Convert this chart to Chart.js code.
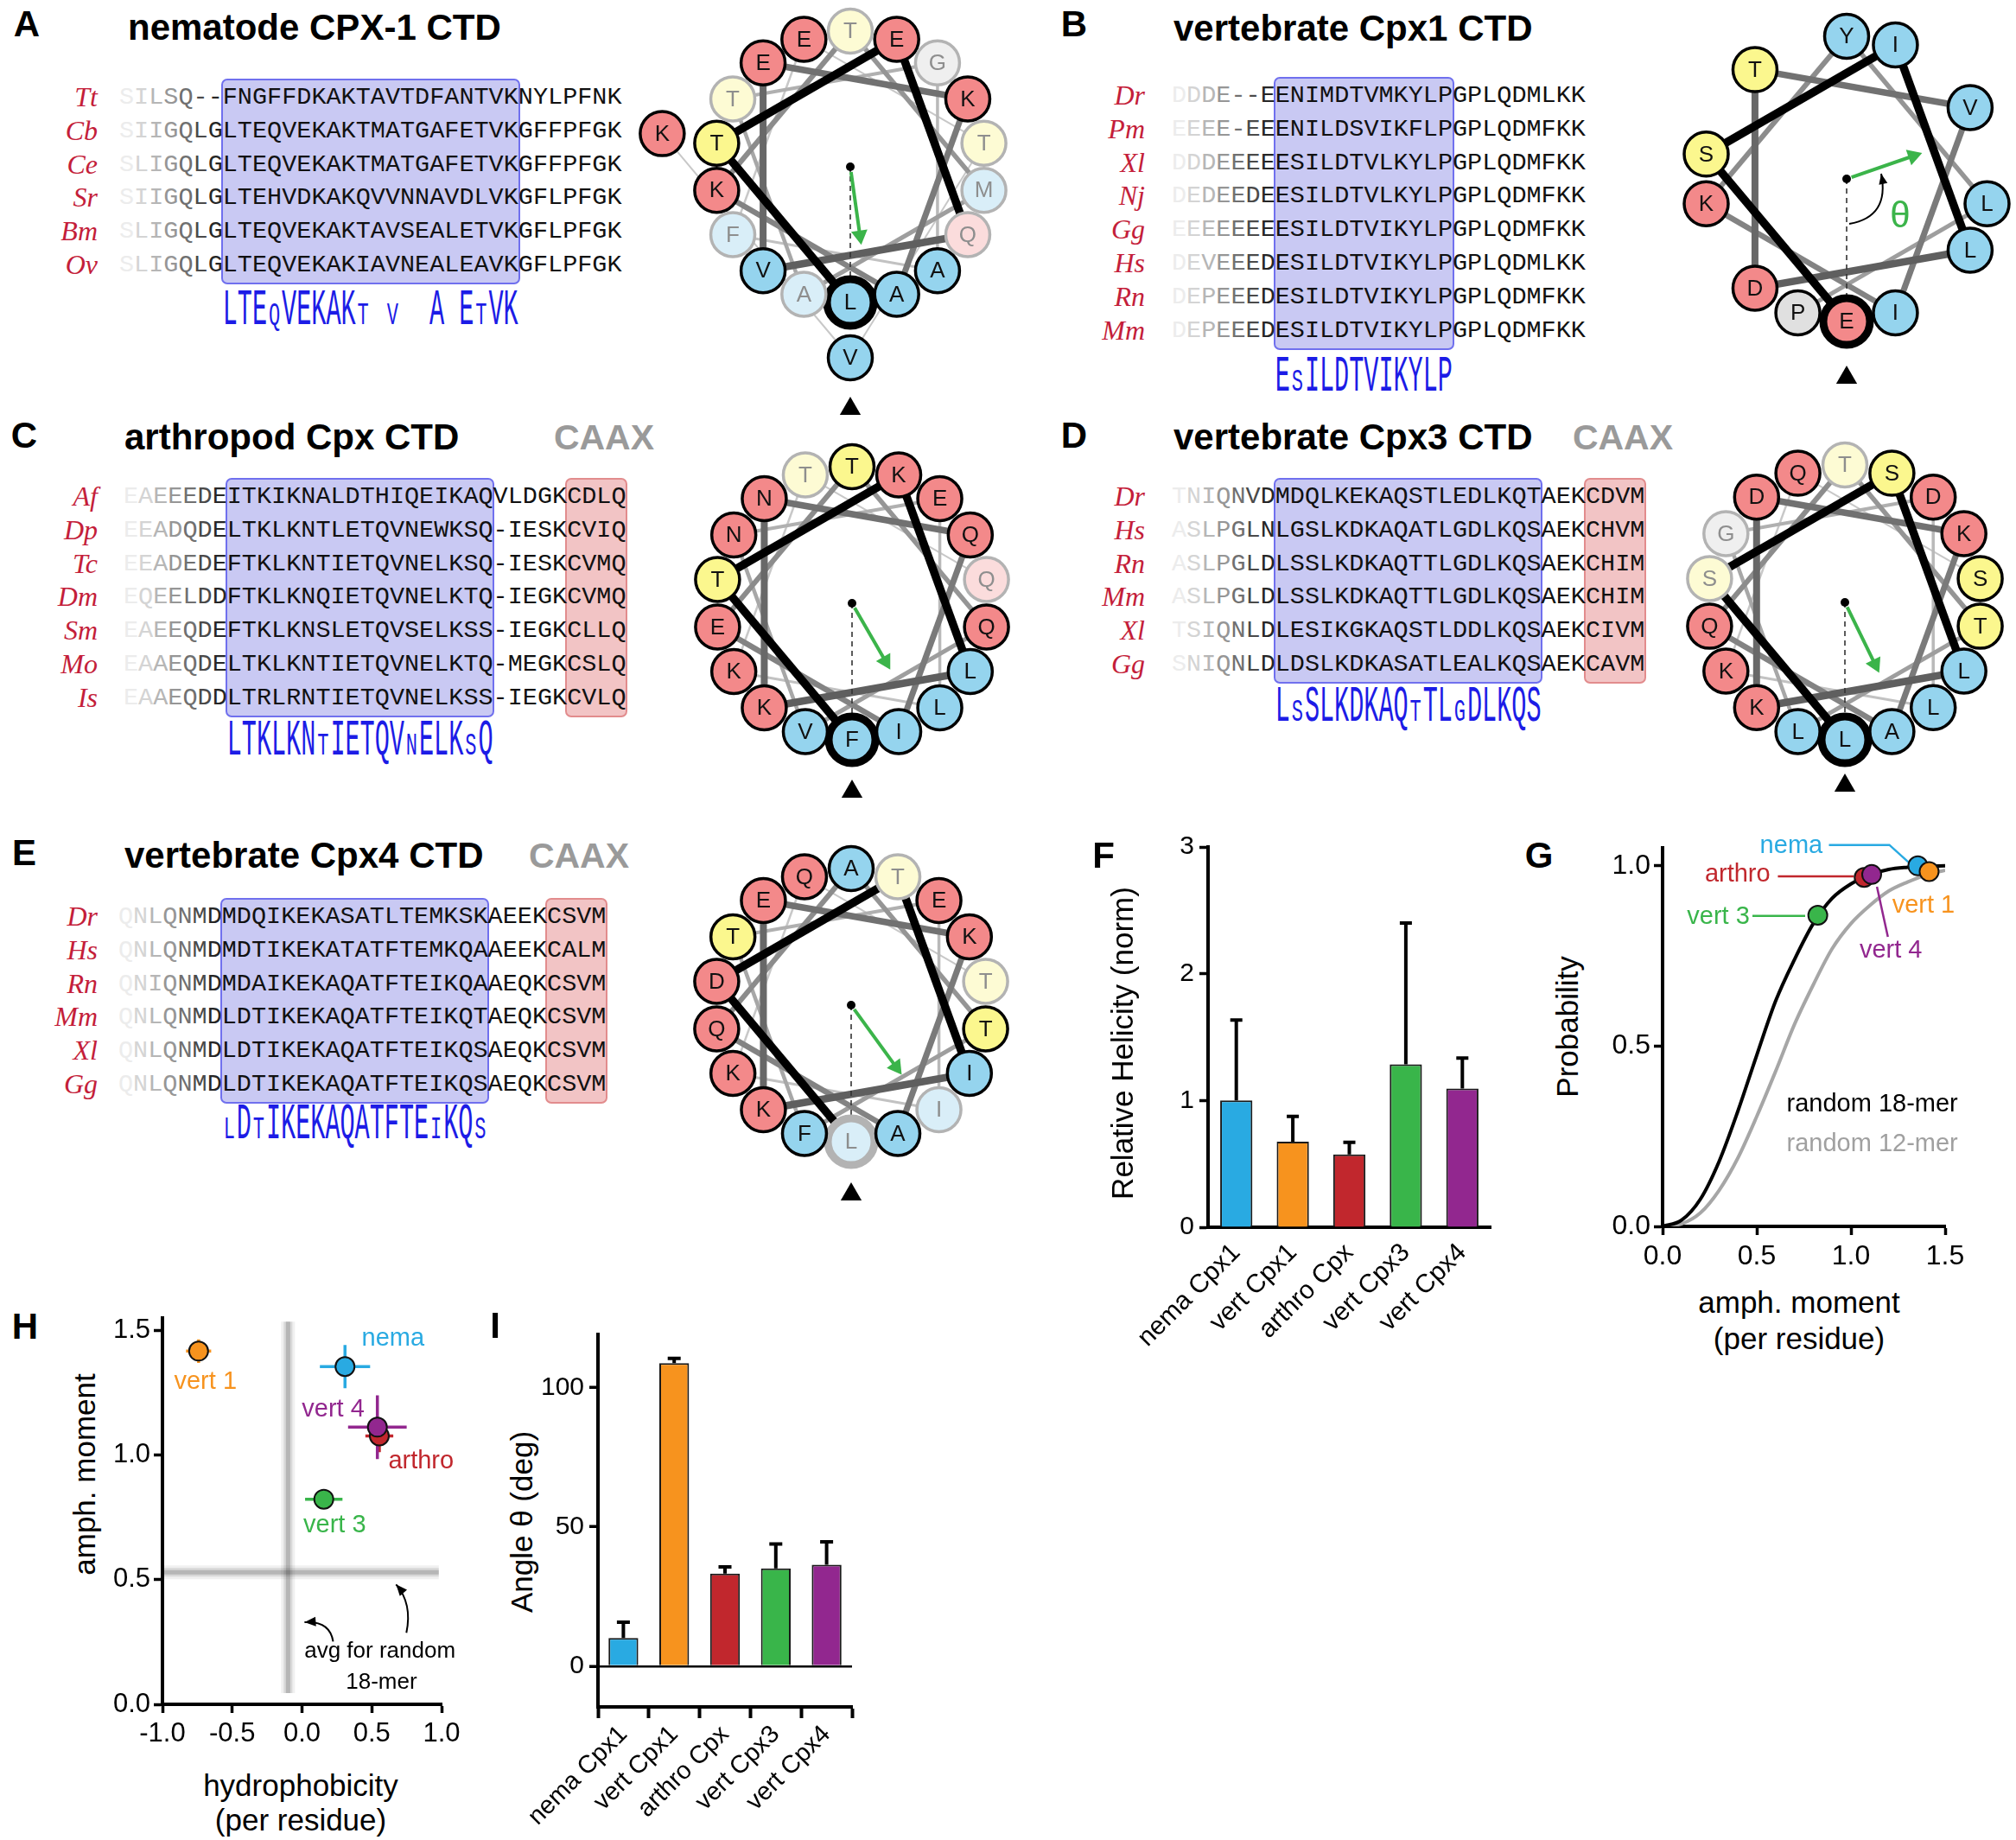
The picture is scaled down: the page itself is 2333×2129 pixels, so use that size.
<!DOCTYPE html>
<html>
<head>
<meta charset="utf-8">
<script src="https://cdn.jsdelivr.net/npm/chart.js@4.4.1/dist/chart.umd.min.js"></script>
<style>
html, body { margin: 0; padding: 0; background: #fff; overflow: hidden; }
#page { position: relative; width: 2333px; height: 2129px; overflow: hidden; font-family: "Liberation Sans", Arial, sans-serif; }
.t { position: absolute; white-space: nowrap; line-height: 1; }
.box { position: absolute; border-radius: 7px; box-sizing: border-box; }
canvas { position: absolute; }
</style>
</head>
<body>
<div id="page"></div>
<script>
// ---------- alignments (A-E) ----------
const speciesA = ['Tt', 'Cb', 'Ce', 'Sr', 'Bm', 'Ov'];
const seqA = [
  'SILSQ--FNGFFDKAKTAVTDFANTVKNYLPFNK',
  'SIIGQLGLTEQVEKAKTMATGAFETVKGFFPFGK',
  'SLIGQLGLTEQVEKAKTMATGAFETVKGFFPFGK',
  'SIIGQLGLTEHVDKAKQVVNNAVDLVKGFLPFGK',
  'SLIGQLGLTEQVEKAKTAVSEALETVKGFLPFGK',
  'SLIGQLGLTEQVEKAKIAVNEALEAVKGFLPFGK'];
const consA = 'LTEqVEKAKt v  A EtVK';

const speciesB = ['Dr', 'Pm', 'Xl', 'Nj', 'Gg', 'Hs', 'Rn', 'Mm'];
const seqB = [
  'DDDE--EENIMDTVMKYLPGPLQDMLKK',
  'EEEE-EEENILDSVIKFLPGPLQDMFKK',
  'DDDEEEEESILDTVLKYLPGPLQDMFKK',
  'DEDEEDEESILDTVLKYLPGPLQDMFKK',
  'EEEEEEEESILDTVIKYLPGPLQDMFKK',
  'DEVEEEDESILDTVIKYLPGPLQDMLKK',
  'DEPEEEDESILDTVIKYLPGPLQDMFKK',
  'DEPEEEDESILDTVIKYLPGPLQDMFKK'];
const consB = 'EsILDTVIKYLP';

const speciesC = ['Af', 'Dp', 'Tc', 'Dm', 'Sm', 'Mo', 'Is'];
const seqC = [
  'EAEEEDEITKIKNALDTHIQEIKAQVLDGKCDLQ',
  'EEADQDELTKLKNTLETQVNEWKSQ-IESKCVIQ',
  'EEADEDEFTKLKNTIETQVNELKSQ-IESKCVMQ',
  'EQEELDDFTKLKNQIETQVNELKTQ-IEGKCVMQ',
  'EAEEQDEFTKLKNSLETQVSELKSS-IEGKCLLQ',
  'EAAEQDELTKLKNTIETQVNELKTQ-MEGKCSLQ',
  'EAAEQDDLTRLRNTIETQVNELKSS-IEGKCVLQ'];
const consC = 'LTKLKNtIETQVnELKsQ';

const speciesD = ['Dr', 'Hs', 'Rn', 'Mm', 'Xl', 'Gg'];
const seqD = [
  'TNIQNVDMDQLKEKAQSTLEDLKQTAEKCDVM',
  'ASLPGLNLGSLKDKAQATLGDLKQSAEKCHVM',
  'ASLPGLDLSSLKDKAQTTLGDLKQSAEKCHIM',
  'ASLPGLDLSSLKDKAQTTLGDLKQSAEKCHIM',
  'TSIQNLDLESIKGKAQSTLDDLKQSAEKCIVM',
  'SNIQNLDLDSLKDKASATLEALKQSAEKCAVM'];
const consD = 'LsSLKDKAQtTLgDLKQS';

const speciesE = ['Dr', 'Hs', 'Rn', 'Mm', 'Xl', 'Gg'];
const seqE = [
  'QNLQNMDMDQIKEKASATLTEMKSKAEEKCSVM',
  'QNLQNMDMDTIKEKATATFTEMKQAAEEKCALM',
  'QNIQNMDMDAIKEKAQATFTEIKQAAEQKCSVM',
  'QNLQNMDLDTIKEKAQATFTEIKQTAEQKCSVM',
  'QNLQNMDLDTIKEKAQATFTEIKQSAEQKCSVM',
  'QNLQNMDLDTIKEKAQATFTEIKQSAEQKCSVM'];
const consE = 'lDtIKEKAQATFTEiKQs';

// ---------- helical wheels ----------
const wheelSeqA = 'LTEQVEKAKTMATGAFETVK';
const wheelPaleA = '00010000011111010100';
const wheelSeqB = 'ESILDTVIKYLP';
const wheelPaleB = '000000000000';
const wheelSeqC = 'FTKLKNQIETQVNELKTQ';
const wheelPaleC = '000000000000000011';
const wheelSeqD = 'LSSLKDKAQTTLGDLKQS';
const wheelPaleD = '010000000100100000';
const wheelSeqE = 'LDTIKEKAQATFTEIKQT';
const wheelPaleE = '101000000000001001';
const momentTheta = [8, 109, 30, 26, 36];          // deg, wheels A..E
const momentLen = [0.58, 0.56, 0.56, 0.57, 0.63];  // fraction of wheel radius

// ---------- F, I bar charts ----------
const groups = ['nema Cpx1', 'vert Cpx1', 'arthro Cpx', 'vert Cpx3', 'vert Cpx4'];
const helicity = [1.0, 0.675, 0.575, 1.285, 1.095];
const helicitySd = [0.635, 0.2, 0.095, 1.115, 0.24];
const helicityTicks = [0, 1, 2, 3];
const angle = [10.1, 108.7, 33.2, 35.1, 36.4];
const angleSd = [5.7, 1.7, 2.4, 8.7, 8.2];
const angleTicks = [0, 50, 100];

// ---------- G probability curves ----------
const amphX = [0, 0.1, 0.2, 0.3, 0.4, 0.5, 0.6, 0.7, 0.8, 0.9, 1.0, 1.1, 1.2, 1.3, 1.4, 1.5];
const prob18 = [0, 0.017, 0.075, 0.18, 0.32, 0.475, 0.625, 0.74, 0.84, 0.91, 0.95, 0.975, 0.99, 0.996, 0.999, 1.0];
const prob12 = [0, 0.007, 0.037, 0.1, 0.19, 0.305, 0.43, 0.56, 0.67, 0.77, 0.84, 0.89, 0.93, 0.955, 0.975, 0.988];
const pointNames = ['nema', 'vert 1', 'arthro', 'vert 3', 'vert 4'];
const gMoment = [1.355, 1.415, 1.07, 0.824, 1.11];
const gProb = [1.0, 0.984, 0.968, 0.863, 0.976];
const gXTicks = [0, 0.5, 1.0, 1.5];
const gYTicks = [0, 0.5, 1.0];

// ---------- H hydrophobicity vs moment ----------
const hHydro = [0.308, -0.741, 0.554, 0.156, 0.54];
const hHydroSd = [0.18, 0.09, 0.1, 0.134, 0.21];
const hMoment = [1.355, 1.417, 1.077, 0.823, 1.112];
const hMomentSd = [0.087, 0.047, 0.065, 0.02, 0.128];
const randomHydro = -0.1;
const randomMoment = 0.53;
const hXTicks = [-1.0, -0.5, 0.0, 0.5, 1.0];
const hYTicks = [0, 0.5, 1.0, 1.5];

const groupColors = ['#29aae2', '#f7931e', '#c1272d', '#39b54a', '#92278f'];

// =====================================================
const page = document.getElementById('page');
const SANS = '"Liberation Sans", Arial, sans-serif';
Chart.defaults.font.family = SANS;
Chart.defaults.color = '#000';
Chart.defaults.animation = false;
Chart.defaults.events = [];
Chart.defaults.plugins.legend.display = false;
Chart.defaults.plugins.tooltip.enabled = false;

function addDiv(cls, css, text) {
  const d = document.createElement('div');
  d.className = cls;
  Object.assign(d.style, css);
  if (text != null) d.textContent = text;
  page.appendChild(d);
  return d;
}
function label(x, y, text, css, align, dy) {
  const tx = align === 'c' ? '-50%' : align === 'r' ? '-100%' : '0';
  return addDiv('t', Object.assign({left: x + 'px', top: y + 'px',
    transform: 'translate(' + tx + ',' + (dy || '-50%') + ')'}, css), text);
}
function vlabel(x, y, text, size) {
  return addDiv('t', {left: x + 'px', top: y + 'px', fontSize: size + 'px',
    transform: 'translate(-50%,-50%) rotate(-90deg)'}, text);
}
function canvasAt(left, top, w, h) {
  const c = document.createElement('canvas');
  c.width = w; c.height = h;
  Object.assign(c.style, {left: left + 'px', top: top + 'px', width: w + 'px', height: h + 'px'});
  page.appendChild(c);
  return c;
}
function chartCanvas(L, T, R, B, pl, pt, pr, pb) {
  return canvasAt(L - pl, T - pt, R - L + pl + pr, B - T + pt + pb);
}

// ---------- alignment drawing ----------
const CW = 17.1, STEP = 38.8, FS = CW / 0.6;
const fade = ['#ececec', '#d4d4d4', '#b6b6b6', '#969696', '#707070', '#4a4a4a', '#262626'];

function alignment(species, seqs, x0, labelRight, y0, cons, consY, boxes) {
  const last = y0 + STEP * (seqs.length - 1);
  boxes.forEach(b => {
    const blue = b[2] === 'b';
    addDiv('box', {left: (x0 + b[0] * CW - 2) + 'px', top: (y0 - 21) + 'px',
      width: ((b[1] - b[0]) * CW + 4) + 'px', height: (last - y0 + 44) + 'px',
      background: blue ? '#c9c9f3' : '#f2c4c5',
      border: '2px solid ' + (blue ? '#7070ee' : '#e28c8d')});
  });
  seqs.forEach((s, r) => {
    const y = y0 + r * STEP;
    label(labelRight, y, species[r], {fontFamily: '"Liberation Serif", serif', fontStyle: 'italic',
      fontSize: '32px', color: '#c41e3a'}, 'r');
    const d = label(x0, y, null, {fontFamily: '"Liberation Mono", monospace', fontSize: FS + 'px', color: '#111'}, 'l', '-44%');
    d.innerHTML = [...s].map((ch, i) => i < fade.length ? '<span style="color:' + fade[i] + '">' + ch + '</span>' : ch).join('');
  });
  // consensus: capitals big, lower case shown as small capitals
  const base = consY + 19.5;
  [...cons].forEach((ch, i) => {
    if (ch === ' ') return;
    const small = ch !== ch.toUpperCase();
    const fs = small ? 22 : FS, k = small ? 1.65 : 2.08;
    addDiv('t', {left: (x0 + (7 + i) * CW) + 'px', width: CW + 'px', textAlign: 'center',
      top: (base - 0.767 * fs) + 'px', fontSize: fs + 'px', fontFamily: '"Liberation Mono", monospace',
      color: '#1c1ce6', transformOrigin: '50% ' + (0.767 * fs) + 'px', transform: 'scaleY(' + k + ')'},
      ch.toUpperCase());
  });
}

const letterCss = {fontSize: '42px', fontWeight: 'bold'};
const titleCss = {fontSize: '42px', fontWeight: 'bold'};
const caaxCss = {fontSize: '41px', fontWeight: 'bold', color: '#9a9a9a'};

label(31, 28, 'A', letterCss, 'c');
label(148, 32, 'nematode CPX-1 CTD', titleCss, 'l');
alignment(speciesA, seqA, 138, 113, 112, consA, 357, [[7, 27, 'b']]);

label(1243, 28, 'B', letterCss, 'c');
label(1358, 33, 'vertebrate Cpx1 CTD', titleCss, 'l');
alignment(speciesB, seqB, 1356, 1325, 110, consB, 434, [[7, 19, 'b']]);

label(28, 504, 'C', letterCss, 'c');
label(144, 506, 'arthropod Cpx CTD', titleCss, 'l');
label(699, 506, 'CAAX', caaxCss, 'c');
alignment(speciesC, seqC, 143, 113, 574, consC, 855, [[7, 25, 'b'], [30, 34, 'r']]);

label(1243, 504, 'D', letterCss, 'c');
label(1358, 506, 'vertebrate Cpx3 CTD', titleCss, 'l');
label(1878, 506, 'CAAX', caaxCss, 'c');
alignment(speciesD, seqD, 1356, 1325, 574, consD, 816, [[7, 25, 'b'], [28, 32, 'r']]);

label(28, 987, 'E', letterCss, 'c');
label(144, 990, 'vertebrate Cpx4 CTD', titleCss, 'l');
label(670, 990, 'CAAX', caaxCss, 'c');
alignment(speciesE, seqE, 137, 113, 1060, consE, 1299, [[7, 25, 'b'], [29, 33, 'r']]);

// ---------- helical wheels ----------
const resKind = {K: 'red', E: 'red', D: 'red', R: 'red', N: 'red', Q: 'red', H: 'red',
  S: 'yel', T: 'yel', G: 'gry', P: 'gry'};
const fills = {red: '#f3898a', yel: '#fbf78e', blu: '#95d4ee', gry: '#e0e0e0'};
const paleFills = {red: '#fbdcdc', yel: '#fdfbd4', blu: '#d9eef8', gry: '#efefef'};

function arrowHead(ctx, x, y, ang, len, half) {
  ctx.beginPath();
  ctx.moveTo(x, y);
  ctx.lineTo(x - len * Math.cos(ang) + half * Math.sin(ang), y - len * Math.sin(ang) - half * Math.cos(ang));
  ctx.lineTo(x - len * Math.cos(ang) - half * Math.sin(ang), y - len * Math.sin(ang) + half * Math.cos(ang));
  ctx.closePath();
  ctx.fill();
}

const wheelText = {
  id: 'wheelText',
  afterDatasetsDraw(chart, args, o) {
    const ctx = chart.ctx, meta = chart.getDatasetMeta(0);
    const xs = chart.scales.x, ys = chart.scales.y;
    ctx.save();
    ctx.font = '26px ' + SANS;
    ctx.textAlign = 'center';
    ctx.textBaseline = 'middle';
    meta.data.forEach((el, i) => {
      ctx.fillStyle = o.pale[i] === '1' ? '#8e8e8e' : '#111';
      ctx.fillText(o.seq[i], el.x, el.y + 1);
    });
    if (o.showTheta) {
      const P = q => [xs.getPixelForValue(q[0]), ys.getPixelForValue(q[1])];
      const a = P([3, -52]), c = P([50, -44]), b = P([40, 6]);
      ctx.strokeStyle = '#000'; ctx.fillStyle = '#000'; ctx.lineWidth = 2;
      ctx.beginPath(); ctx.moveTo(a[0], a[1]); ctx.quadraticCurveTo(c[0], c[1], b[0], b[1]); ctx.stroke();
      arrowHead(ctx, b[0], b[1], Math.atan2(b[1] - c[1], b[0] - c[0]), 12, 5);
      const t = P([62, -44]);
      ctx.fillStyle = '#3bb44a';
      ctx.font = '42px ' + SANS;
      ctx.fillText('\u03b8', t[0], t[1]);
    }
    ctx.restore();
  }
};

function wheel(seq, pale, theta, lenFrac, cx, cy, r, rOut, triOff, showTheta) {
  const W = 600, H = 640, ox = 300, oy = 290;
  const c = canvasAt(cx - ox, cy - oy, W, H);
  const pts = [...seq].map((aa, i) => {
    const a = (180 + 100 * i) * Math.PI / 180, rr = i < 18 ? r : rOut;
    return {x: rr * Math.sin(a), y: rr * Math.cos(a)};
  });
  const isPale = i => pale[i] === '1';
  const kind = i => resKind[seq[i]] || 'blu';
  const datasets = [{
    data: pts,
    pointRadius: pts.map((p, i) => i === 0 ? 27 : 25.5),
    pointBackgroundColor: pts.map((p, i) => (isPale(i) ? paleFills : fills)[kind(i)]),
    pointBorderColor: pts.map((p, i) => isPale(i) ? '#b3b3b3' : '#000'),
    pointBorderWidth: pts.map((p, i) => i === 0 ? 9 : 3.5),
    order: 0
  }];
  datasets.push({data: [{x: 0, y: 0}], pointRadius: 5, pointBackgroundColor: '#000', pointBorderWidth: 0, order: 1});
  datasets.push({data: [{x: 0, y: 0}, {x: 0, y: -(r - 26)}], showLine: true, borderColor: '#333',
    borderWidth: 1.6, borderDash: [6, 5], pointRadius: 0, order: 2});
  const t = theta * Math.PI / 180, dx = Math.sin(t), dy = -Math.cos(t), len = lenFrac * r, hd = 11;
  datasets.push({data: [{x: dx * 6, y: dy * 6}, {x: dx * (len - hd), y: dy * (len - hd)}], showLine: true,
    borderColor: '#3bb44a', borderWidth: 4, pointRadius: [0, hd], pointStyle: 'triangle',
    pointRotation: 180 - theta, pointBackgroundColor: '#3bb44a', pointBorderWidth: 0, order: 1});
  datasets.push({data: [{x: 0, y: -triOff}], pointRadius: 14, pointStyle: 'triangle',
    pointBackgroundColor: '#000', pointBorderWidth: 0, order: 1});
  for (let k = 0; k < pts.length - 1; k++) {
    const g = Math.min(200, 95 + (k - 3) * 9);
    datasets.push({
      data: [{x: pts[k].x, y: pts[k].y}, {x: pts[k + 1].x, y: pts[k + 1].y}],
      showLine: true, pointRadius: 0,
      borderColor: k < 3 ? '#000' : 'rgb(' + g + ',' + g + ',' + g + ')',
      borderWidth: k < 3 ? 9.5 : Math.max(2, 8.5 - (k - 3) * 0.5),
      order: 3 + k
    });
  }
  new Chart(c, {
    type: 'scatter',
    data: {datasets},
    options: {
      responsive: false, devicePixelRatio: 1,
      layout: {padding: 0, autoPadding: false},
      scales: {x: {display: false, min: -ox, max: W - ox}, y: {display: false, min: -(H - oy), max: oy}},
      plugins: {wheelText: {seq, pale, showTheta}}
    },
    plugins: [wheelText]
  });
}

wheel(wheelSeqA, wheelPaleA, momentTheta[0], momentLen[0], 984, 193, 157, 221, 280, false);
wheel(wheelSeqB, wheelPaleB, momentTheta[1], momentLen[1], 2137, 207, 165, 230, 230, true);
wheel(wheelSeqC, wheelPaleC, momentTheta[2], momentLen[2], 986, 698, 158, 222, 218, false);
wheel(wheelSeqD, wheelPaleD, momentTheta[3], momentLen[3], 2135, 697, 159, 222, 212, false);
wheel(wheelSeqE, wheelPaleE, momentTheta[4], momentLen[4], 985, 1163, 158, 222, 219, false);

// ---------- chart plugins ----------
const errorBars = {
  id: 'errorBars',
  afterDatasetsDraw(chart, args, o) {
    const ctx = chart.ctx, meta = chart.getDatasetMeta(0), ys = chart.scales.y;
    const vals = chart.data.datasets[0].data;
    ctx.save();
    ctx.strokeStyle = '#000';
    ctx.lineWidth = o.width;
    meta.data.forEach((bar, i) => {
      const top = ys.getPixelForValue(vals[i] + o.sd[i]);
      ctx.beginPath();
      ctx.moveTo(bar.x, bar.y); ctx.lineTo(bar.x, top);
      ctx.moveTo(bar.x - o.cap, top); ctx.lineTo(bar.x + o.cap, top);
      ctx.stroke();
    });
    ctx.restore();
  }
};

const chartTexts = {
  id: 'chartTexts',
  afterDatasetsDraw(chart, args, o) {
    const ctx = chart.ctx, xs = chart.scales.x, ys = chart.scales.y;
    ctx.save();
    ctx.textBaseline = 'middle';
    (o.items || []).forEach(it => {
      ctx.font = it.size + 'px ' + SANS;
      ctx.fillStyle = it.color;
      ctx.textAlign = it.align || 'center';
      ctx.fillText(it.text, xs.getPixelForValue(it.x), ys.getPixelForValue(it.y));
    });
    (o.arrows || []).forEach(a => {
      const p = a.map(q => [xs.getPixelForValue(q[0]), ys.getPixelForValue(q[1])]);
      ctx.strokeStyle = '#000'; ctx.fillStyle = '#000'; ctx.lineWidth = 2;
      ctx.beginPath(); ctx.moveTo(p[0][0], p[0][1]);
      ctx.quadraticCurveTo(p[1][0], p[1][1], p[2][0], p[2][1]); ctx.stroke();
      arrowHead(ctx, p[2][0], p[2][1], Math.atan2(p[2][1] - p[1][1], p[2][0] - p[1][0]), 13, 5.5);
    });
    ctx.restore();
  }
};

const xyErrors = {
  id: 'xyErrors',
  beforeDatasetDraw(chart, args, o) {
    if (args.index !== o.index) return;
    const ctx = chart.ctx, xs = chart.scales.x, ys = chart.scales.y;
    ctx.save();
    ctx.lineWidth = 3.5;
    o.x.forEach((x, i) => {
      const y = o.y[i];
      ctx.strokeStyle = o.colors[i];
      ctx.beginPath();
      ctx.moveTo(xs.getPixelForValue(x - o.xsd[i]), ys.getPixelForValue(y));
      ctx.lineTo(xs.getPixelForValue(x + o.xsd[i]), ys.getPixelForValue(y));
      ctx.moveTo(xs.getPixelForValue(x), ys.getPixelForValue(y - o.ysd[i]));
      ctx.lineTo(xs.getPixelForValue(x), ys.getPixelForValue(y + o.ysd[i]));
      ctx.stroke();
    });
    ctx.restore();
  }
};

function tickGrid(len) {
  return {display: true, drawOnChartArea: false, drawTicks: true, tickLength: len, tickWidth: 3.5, tickColor: '#000'};
}
const axisBorder = {display: true, color: '#000', width: 4};

// ---------- F ----------
label(1277, 990, 'F', letterCss, 'c');
vlabel(1298, 1207, 'Relative Helicity (norm)', 35);
new Chart(chartCanvas(1398, 980, 1725, 1420, 110, 30, 20, 240), {
  type: 'bar',
  data: {labels: groups, datasets: [{data: helicity, backgroundColor: groupColors, borderColor: '#1a1a1a',
    borderWidth: 2, barPercentage: 0.57, categoryPercentage: 1}]},
  options: {
    responsive: false, devicePixelRatio: 1,
    layout: {padding: {left: 0, top: 30, right: 20, bottom: 0}, autoPadding: false},
    scales: {
      x: {grid: {display: false}, border: axisBorder,
        ticks: {font: {size: 30}, color: '#000', minRotation: 45, maxRotation: 45, padding: 4, autoSkip: false},
        afterFit: s => { s.height = 240; }},
      y: {min: 0, max: 3, grid: tickGrid(10), border: axisBorder,
        ticks: {font: {size: 30}, color: '#000', padding: 6},
        afterBuildTicks: s => { s.ticks = helicityTicks.map(v => ({value: v})); },
        afterFit: s => { s.width = 110; }}
    },
    plugins: {errorBars: {sd: helicitySd, cap: 7, width: 4}}
  },
  plugins: [errorBars]
});

// ---------- G ----------
label(1781, 990, 'G', letterCss, 'c');
vlabel(1813, 1188, 'Probability', 35);
label(2082, 1506, 'amph. moment', {fontSize: '35px'}, 'c');
label(2082, 1548, '(per residue)', {fontSize: '35px'}, 'c');
const gPoints = gMoment.map((x, i) => ({x, y: gProb[i]}));
new Chart(chartCanvas(1924, 981, 2251, 1419, 150, 45, 90, 80), {
  type: 'scatter',
  data: {datasets: [
    {data: gPoints, pointRadius: 11, pointBackgroundColor: groupColors, pointBorderColor: '#111', pointBorderWidth: 2, order: 0, clip: false},
    {data: amphX.map((x, i) => ({x, y: prob18[i]})), showLine: true, borderColor: '#000', borderWidth: 4,
      pointRadius: 0, cubicInterpolationMode: 'monotone', order: 4},
    {data: amphX.map((x, i) => ({x, y: prob12[i]})), showLine: true, borderColor: '#a6a6a6', borderWidth: 4,
      pointRadius: 0, cubicInterpolationMode: 'monotone', order: 5},
    {data: [{x: 0.883, y: 1.058}, {x: 1.204, y: 1.058}, {x: 1.327, y: 1.0}], showLine: true, borderColor: groupColors[0], borderWidth: 2.5, pointRadius: 0, clip: false, order: 3},
    {data: [{x: 0.612, y: 0.971}, {x: 1.015, y: 0.971}], showLine: true, borderColor: groupColors[2], borderWidth: 2.5, pointRadius: 0, order: 3},
    {data: [{x: 0.477, y: 0.861}, {x: 0.757, y: 0.861}], showLine: true, borderColor: groupColors[3], borderWidth: 2.5, pointRadius: 0, order: 3},
    {data: [{x: 1.196, y: 0.803}, {x: 1.138, y: 0.942}], showLine: true, borderColor: groupColors[4], borderWidth: 2.5, pointRadius: 0, order: 3}
  ]},
  options: {
    responsive: false, devicePixelRatio: 1,
    layout: {padding: {left: 0, top: 45, right: 90, bottom: 0}, autoPadding: false},
    scales: {
      x: {type: 'linear', min: 0, max: 1.5, grid: tickGrid(10), border: axisBorder,
        ticks: {font: {size: 32}, color: '#000', padding: 6, callback: v => v.toFixed(1)},
        afterBuildTicks: s => { s.ticks = gXTicks.map(v => ({value: v})); },
        afterFit: s => { s.height = 80; }},
      y: {min: 0, max: 1.05, grid: tickGrid(10), border: axisBorder,
        ticks: {font: {size: 32}, color: '#000', padding: 4, callback: v => v.toFixed(1)},
        afterBuildTicks: s => { s.ticks = gYTicks.map(v => ({value: v})); },
        afterFit: s => { s.width = 150; }}
    },
    plugins: {chartTexts: {items: [
      {text: pointNames[0], x: 0.683, y: 1.055, color: groupColors[0], size: 29},
      {text: pointNames[2], x: 0.398, y: 0.976, color: groupColors[2], size: 29},
      {text: pointNames[3], x: 0.296, y: 0.859, color: groupColors[3], size: 29},
      {text: pointNames[1], x: 1.385, y: 0.89, color: groupColors[1], size: 29},
      {text: pointNames[4], x: 1.212, y: 0.765, color: groupColors[4], size: 29},
      {text: 'random 18-mer', x: 1.113, y: 0.338, color: '#000', size: 29},
      {text: 'random 12-mer', x: 1.113, y: 0.228, color: '#a0a0a0', size: 29}
    ]}}
  },
  plugins: [chartTexts]
});

// ---------- H ----------
label(29, 1535, 'H', letterCss, 'c');
vlabel(97, 1706, 'amph. moment', 35);
label(348, 2065, 'hydrophobicity', {fontSize: '35px'}, 'c');
label(348, 2105, '(per residue)', {fontSize: '35px'}, 'c');
const hPoints = hHydro.map((x, i) => ({x, y: hMoment[i]}));
const haze = [[16, 0.07], [10, 0.12], [5, 0.2]];
const hDatasets = [{data: hPoints, pointRadius: 11, pointBackgroundColor: groupColors,
  pointBorderColor: '#111', pointBorderWidth: 2, order: 0}];
haze.forEach(h => {
  hDatasets.push({data: [{x: randomHydro, y: 0.045}, {x: randomHydro, y: 1.535}], showLine: true,
    borderColor: 'rgba(40,40,40,' + h[1] + ')', borderWidth: h[0], pointRadius: 0, order: 5});
  hDatasets.push({data: [{x: -0.99, y: randomMoment}, {x: 0.98, y: randomMoment}], showLine: true,
    borderColor: 'rgba(40,40,40,' + h[1] + ')', borderWidth: h[0], pointRadius: 0, order: 5});
});
new Chart(chartCanvas(188, 1525, 511, 1972, 110, 30, 70, 70), {
  type: 'scatter',
  data: {datasets: hDatasets},
  options: {
    responsive: false, devicePixelRatio: 1,
    layout: {padding: {left: 0, top: 30, right: 70, bottom: 0}, autoPadding: false},
    scales: {
      x: {type: 'linear', min: -1, max: 1, grid: tickGrid(10), border: axisBorder,
        ticks: {font: {size: 31}, color: '#000', padding: 6, callback: v => v.toFixed(1)},
        afterBuildTicks: s => { s.ticks = hXTicks.map(v => ({value: v})); },
        afterFit: s => { s.height = 70; }},
      y: {min: 0, max: 1.55, grid: tickGrid(10), border: axisBorder,
        ticks: {font: {size: 31}, color: '#000', padding: 4, callback: v => v.toFixed(1)},
        afterBuildTicks: s => { s.ticks = hYTicks.map(v => ({value: v})); },
        afterFit: s => { s.width = 110; }}
    },
    plugins: {
      xyErrors: {index: 0, x: hHydro, y: hMoment, xsd: hHydroSd, ysd: hMomentSd, colors: groupColors},
      chartTexts: {
        items: [
          {text: pointNames[0], x: 0.652, y: 1.466, color: groupColors[0], size: 29},
          {text: pointNames[1], x: -0.692, y: 1.293, color: groupColors[1], size: 29},
          {text: pointNames[4], x: 0.223, y: 1.184, color: groupColors[4], size: 29},
          {text: pointNames[2], x: 0.853, y: 0.976, color: groupColors[2], size: 29},
          {text: pointNames[3], x: 0.234, y: 0.717, color: groupColors[3], size: 29},
          {text: 'avg for random', x: 0.558, y: 0.211, color: '#000', size: 26},
          {text: '18-mer', x: 0.569, y: 0.086, color: '#000', size: 26}
        ],
        arrows: [
          [[0.223, 0.252], [0.2, 0.336], [0.018, 0.329]],
          [[0.748, 0.287], [0.792, 0.405], [0.674, 0.481]]
        ]
      }
    }
  },
  plugins: [xyErrors, chartTexts]
});

// ---------- I ----------
label(573, 1534, 'I', letterCss, 'c');
vlabel(603, 1761, 'Angle \u03b8 (deg)', 35);
new Chart(chartCanvas(692, 1540, 986, 1975, 110, 20, 20, 160), {
  type: 'bar',
  data: {labels: groups, datasets: [{data: angle, backgroundColor: groupColors, borderColor: '#1a1a1a',
    borderWidth: 2, barPercentage: 0.585, categoryPercentage: 1}]},
  options: {
    responsive: false, devicePixelRatio: 1,
    layout: {padding: {left: 0, top: 20, right: 20, bottom: 0}, autoPadding: false},
    scales: {
      x: {grid: {display: true, drawOnChartArea: false, drawTicks: true, tickLength: 13, tickWidth: 4, tickColor: '#000', offset: true},
        border: axisBorder,
        ticks: {font: {size: 29}, color: '#000', minRotation: 45, maxRotation: 45, padding: 2, autoSkip: false},
        afterFit: s => { s.height = 160; }},
      y: {min: -14.6, max: 119,
        grid: {display: true, drawOnChartArea: true, drawTicks: true, tickLength: 10, tickWidth: 3.5, tickColor: '#000',
          lineWidth: 2.5, color: c => (c.tick && c.tick.value === 0) ? '#000' : 'rgba(0,0,0,0)'},
        border: axisBorder,
        ticks: {font: {size: 30}, color: '#000', padding: 6},
        afterBuildTicks: s => { s.ticks = angleTicks.map(v => ({value: v})); },
        afterFit: s => { s.width = 110; }}
    },
    plugins: {errorBars: {sd: angleSd, cap: 7.5, width: 4}}
  },
  plugins: [errorBars]
});
</script>
</body>
</html>
